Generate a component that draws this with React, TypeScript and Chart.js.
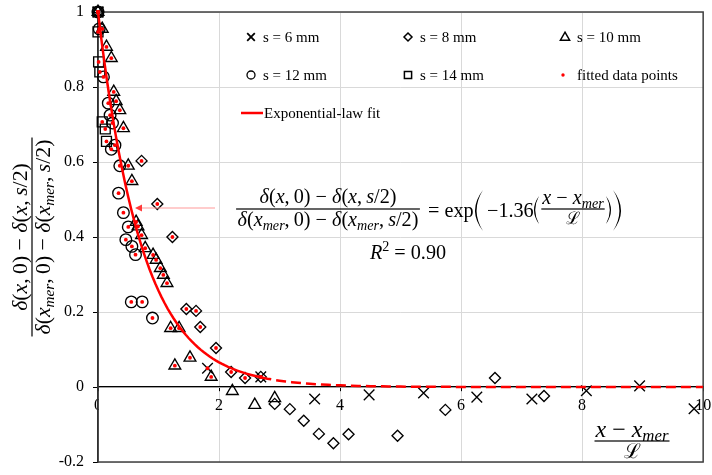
import React, { useEffect, useRef } from 'react';
import { Chart, registerables } from 'chart.js';

Chart.register(...registerables);

// ---------------- data ----------------
const S6_X = [0, 1.81, 2.69, 3.58, 4.48, 5.38, 6.26, 7.17, 8.07, 8.95, 9.85];
const S6_Y = [1, 0.05, 0.027, -0.032, -0.021, -0.016, -0.027, -0.032, -0.01, 0.003, -0.058];

const S8_X = [0, 0.72, 0.98, 1.23, 1.46, 1.62, 1.69, 1.95, 2.2, 2.43, 2.69, 2.92, 3.17, 3.4, 3.65, 3.89, 4.14, 4.95, 5.74, 6.56, 7.37];
const S8_Y = [1, 0.603, 0.488, 0.4, 0.208, 0.203, 0.16, 0.104, 0.04, 0.024, 0.027, -0.045, -0.059, -0.09, -0.125, -0.15, -0.126, -0.13, -0.061, 0.024, -0.024];

const S10_X = [0, 0.07, 0.14, 0.22, 0.26, 0.3, 0.36, 0.42, 0.5, 0.56, 0.63, 0.66, 0.72, 0.78, 0.91, 0.96, 1.03, 1.08, 1.14, 1.2, 1.34, 1.27, 1.52, 1.87, 2.22, 2.59, 2.92];
const S10_Y = [1, 0.955, 0.907, 0.877, 0.787, 0.762, 0.738, 0.69, 0.59, 0.549, 0.44, 0.428, 0.405, 0.37, 0.352, 0.339, 0.317, 0.299, 0.277, 0.157, 0.157, 0.057, 0.078, 0.027, -0.011, -0.048, -0.03];

const S12_X = [0, 0.02, 0.09, 0.17, 0.2, 0.24, 0.28, 0.22, 0.36, 0.34, 0.42, 0.5, 0.46, 0.56, 0.62, 0.55, 0.73, 0.9];
const S12_Y = [1, 0.955, 0.827, 0.757, 0.725, 0.704, 0.645, 0.634, 0.59, 0.517, 0.465, 0.427, 0.393, 0.375, 0.353, 0.227, 0.227, 0.184];

const S14_X = [0, 0, 0.01, 0.03, 0.07, 0.12, 0.14];
const S14_Y = [1, 0.947, 0.867, 0.84, 0.707, 0.688, 0.655];

const FIT_COEF = -1.36;
const FIT_RANGE_END = 2.7;
const X_MIN = 0, X_MAX = 10, X_STEP = 2;
const Y_MIN = -0.2, Y_MAX = 1, Y_STEP = 0.2;

const LEGEND_LABELS = ['s = 6 mm', 's = 8 mm', 's = 10 mm', 's = 12 mm', 's = 14 mm', 'fitted data points', 'Exponential-law fit'];
const R2_TEXT = ' = 0.90';
const COEF_TEXT = '\u22121.36';

// ---------------- helpers ----------------
const pts = (xs: number[], ys: number[]) => xs.map((x, i) => ({ x, y: ys[i] }));

const fittedPoints = (() => {
  const out: { x: number; y: number }[] = [];
  const all: [number[], number[]][] = [[S6_X, S6_Y], [S8_X, S8_Y], [S10_X, S10_Y], [S12_X, S12_Y], [S14_X, S14_Y]];
  for (const [xs, ys] of all) xs.forEach((x, i) => { if (ys[i] > 0 && x <= FIT_RANGE_END) out.push({ x, y: ys[i] }); });
  return out;
})();

const fitCurve = (a: number, b: number, step: number) => {
  const out: { x: number; y: number }[] = [];
  for (let x = a; x <= b + 1e-9; x += step) out.push({ x, y: Math.exp(FIT_COEF * x) });
  return out;
};

const MATH_FONT = '"Liberation Serif", "Times New Roman", serif';
type Seg = [string, number]; // 0 normal, 1 italic, 2 italic subscript, 3 superscript, 4 script letter

function segFont(style: number, size: number) {
  if (style === 4) return `${(size * 0.85).toFixed(2)}px "DejaVu Serif", ${MATH_FONT}`;
  const small = style === 2 || style === 3;
  const sz = small ? size * 0.7 : size;
  const it = style === 1 || style === 2 ? 'italic ' : '';
  return `${it}${sz.toFixed(2)}px ${MATH_FONT}`;
}
function segsWidth(ctx: CanvasRenderingContext2D, segs: Seg[], size: number) {
  let w = 0;
  for (const [t, s] of segs) { ctx.font = segFont(s, size); w += ctx.measureText(t).width; }
  return w;
}
function drawSegs(ctx: CanvasRenderingContext2D, segs: Seg[], x: number, y: number, size: number) {
  ctx.textBaseline = 'alphabetic';
  ctx.textAlign = 'left';
  let cx = x;
  for (const [t, s] of segs) {
    ctx.font = segFont(s, size);
    const dy = s === 2 ? size * 0.2 : s === 3 ? -size * 0.38 : 0;
    ctx.fillText(t, cx, y + dy);
    cx += ctx.measureText(t).width;
  }
  return cx;
}
function drawFraction(ctx: CanvasRenderingContext2D, num: Seg[], den: Seg[], cx: number, barY: number,
  numBase: number, denBase: number, size: number, barW: number) {
  const wn = segsWidth(ctx, num, size), wd = segsWidth(ctx, den, size);
  ctx.fillRect(cx - barW / 2, barY - 0.6, barW, 1.2);
  drawSegs(ctx, num, cx - wn / 2, numBase, size);
  drawSegs(ctx, den, cx - wd / 2, denBase, size);
}
function drawParen(ctx: CanvasRenderingContext2D, x0: number, x1: number, yT: number, yB: number, open: boolean, th: number) {
  const mid = (yT + yB) / 2;
  ctx.beginPath();
  if (open) {
    ctx.moveTo(x1, yT);
    ctx.quadraticCurveTo(2 * x0 - x1, mid, x1, yB);
    ctx.quadraticCurveTo(2 * (x0 + th) - x1, mid, x1, yT);
  } else {
    ctx.moveTo(x0, yT);
    ctx.quadraticCurveTo(2 * x1 - x0, mid, x0, yB);
    ctx.quadraticCurveTo(2 * (x1 - th) - x0, mid, x0, yT);
  }
  ctx.closePath();
  ctx.fill();
}
function drawMarker(ctx: CanvasRenderingContext2D, kind: string, x: number, y: number, s: number) {
  ctx.beginPath();
  if (kind === 'cross') {
    ctx.moveTo(x - s, y - s); ctx.lineTo(x + s, y + s);
    ctx.moveTo(x + s, y - s); ctx.lineTo(x - s, y + s);
  } else if (kind === 'diamond') {
    ctx.moveTo(x, y - s); ctx.lineTo(x + s, y); ctx.lineTo(x, y + s); ctx.lineTo(x - s, y); ctx.closePath();
  } else if (kind === 'triangle') {
    const h = s * 1.732;
    ctx.moveTo(x, y - h * 0.6); ctx.lineTo(x + s, y + h * 0.4); ctx.lineTo(x - s, y + h * 0.4); ctx.closePath();
  } else if (kind === 'circle') {
    ctx.arc(x, y, s, 0, Math.PI * 2);
  } else if (kind === 'square') {
    ctx.rect(x - s, y - s, 2 * s, 2 * s);
  }
  ctx.stroke();
}

const NUM: Seg[] = [['δ', 1], ['(', 0], ['x', 1], [',\u20090) \u2212 ', 0], ['δ', 1], ['(', 0], ['x', 1], [',\u2009', 0], ['s', 1], ['/2)', 0]];
const DEN: Seg[] = [['δ', 1], ['(', 0], ['x', 1], ['mer', 2], [',\u20090) \u2212 ', 0], ['δ', 1], ['(', 0], ['x', 1], ['mer', 2], [',\u2009', 0], ['s', 1], ['/2)', 0]];
const XNUM: Seg[] = [['x', 1], [' \u2212 ', 0], ['x', 1], ['mer', 2]];
const XDEN: Seg[] = [['\u2112', 4]];

const overlayPlugin = {
  id: 'overlay',
  beforeDatasetsDraw(chart: any) {
    const { ctx, chartArea: a } = chart;
    ctx.save();
    ctx.fillStyle = '#fff';
    ctx.fillRect(a.left + 1, a.bottom - 68, 6, 20);
    ctx.strokeStyle = '#404040';
    ctx.lineWidth = 1.5;
    ctx.strokeRect(a.left, a.top, a.right - a.left, a.bottom - a.top);
    ctx.restore();
  },
  afterDraw(chart: any) {
    const { ctx } = chart;
    ctx.save();
    // ---- legend ----
    ctx.strokeStyle = '#000';
    const cols = [251, 408, 565];
    const rows = [37, 75];
    const kinds = ['cross', 'diamond', 'triangle', 'circle', 'square'];
    const sizes = [3.8, 4, 4.6, 4, 3.6];
    const lws = [1.8, 1.5, 1.5, 1.3, 1.5];
    ctx.fillStyle = '#000';
    for (let i = 0; i < 6; i++) {
      const cx = cols[i % 3], cy = rows[Math.floor(i / 3)];
      if (i < 5) { ctx.lineWidth = lws[i]; drawMarker(ctx, kinds[i], cx, cy, sizes[i]); }
      else { ctx.fillStyle = '#ff0000'; ctx.beginPath(); ctx.arc(cx - 2, cy, 1.7, 0, Math.PI * 2); ctx.fill(); ctx.fillStyle = '#000'; }
      ctx.font = `15px ${MATH_FONT}`;
      ctx.textBaseline = 'middle';
      ctx.textAlign = 'left';
      ctx.fillText(LEGEND_LABELS[i], cx + 12, cy + 1);
    }
    ctx.strokeStyle = '#ff0000';
    ctx.lineWidth = 2.5;
    ctx.beginPath(); ctx.moveTo(241, 113); ctx.lineTo(263, 113); ctx.stroke();
    ctx.fillStyle = '#000';
    ctx.font = `15px ${MATH_FONT}`;
    ctx.textBaseline = 'middle';
    ctx.fillText(LEGEND_LABELS[6], 264, 114);

    // ---- arrow ----
    ctx.strokeStyle = '#ff9a9a';
    ctx.lineWidth = 1.2;
    ctx.beginPath(); ctx.moveTo(215, 208); ctx.lineTo(141, 208); ctx.stroke();
    ctx.fillStyle = '#ff3b3b';
    ctx.beginPath(); ctx.moveTo(135, 208); ctx.lineTo(142, 204.5); ctx.lineTo(142, 211.5); ctx.closePath(); ctx.fill();

    // ---- equation ----
    ctx.fillStyle = '#000';
    const ms = 18 * 137 / segsWidth(ctx, NUM, 18);
    const wd = segsWidth(ctx, DEN, ms);
    drawFraction(ctx, NUM, DEN, 328, 209, 203, 226, ms, wd + 3);
    drawSegs(ctx, [['= exp', 0]], 428, 216.5, ms);
    drawParen(ctx, 475, 483, 190, 231, true, 1.6);
    drawSegs(ctx, [[COEF_TEXT, 0]], 487, 216.5, ms);
    drawParen(ctx, 534, 539, 196, 224, true, 1.2);
    const wxn = segsWidth(ctx, XNUM, ms);
    drawFraction(ctx, XNUM, XDEN, 573, 209, 204, 224, ms, wxn + 2);
    drawParen(ctx, 606, 611, 196, 224, false, 1.2);
    drawParen(ctx, 613, 621, 190, 231, false, 1.6);
    const r2 = segsWidth(ctx, [['R', 1], ['2', 3], [R2_TEXT, 0]], ms);
    drawSegs(ctx, [['R', 1], ['2', 3], [R2_TEXT, 0]], 408 - r2 / 2, 258.5, ms);

    // ---- x axis title ----
    const xs = 18 * 73 / segsWidth(ctx, XNUM, 18);
    drawFraction(ctx, XNUM, XDEN, 632, 441, 436.5, 458, xs, 75);

    // ---- y axis title ----
    const ys = 18 * 195 / segsWidth(ctx, DEN, 18);
    ctx.translate(32, 237);
    ctx.rotate(-Math.PI / 2);
    const yw = segsWidth(ctx, DEN, ys);
    drawFraction(ctx, NUM, DEN, 0, 0, -12 + 0.3 * ys, 11 + 0.3 * ys, ys, yw + 4);
    ctx.restore();
  },
};

export default function App() {
  const ref = useRef<HTMLCanvasElement>(null);
  useEffect(() => {
    const canvas = ref.current!;
    const pointDs = (label: string, data: any[], style: string, r: number) => ({
      label, data, showLine: false, pointStyle: style, pointRadius: r, pointHoverRadius: r,
      pointBorderColor: '#000', pointBackgroundColor: 'rgba(0,0,0,0)', pointBorderWidth: 1.35, clip: false as any,
    });
    const chart = new Chart(canvas, {
      type: 'scatter',
      data: {
        datasets: [
          { label: LEGEND_LABELS[5], data: fittedPoints, showLine: false, pointStyle: 'circle', pointRadius: 1.9,
            pointBackgroundColor: '#ff0000', pointBorderWidth: 0, clip: false as any },
          { label: LEGEND_LABELS[6], data: fitCurve(0, FIT_RANGE_END, 0.05), showLine: true, borderColor: '#ff0000',
            borderWidth: 2.5, pointRadius: 0, tension: 0, clip: false as any },
          { label: LEGEND_LABELS[6] + ' (ext)', data: fitCurve(FIT_RANGE_END, X_MAX, 0.1), showLine: true, borderColor: '#ff0000',
            borderWidth: 2.5, borderDash: [10, 5], pointRadius: 0, tension: 0 },
          pointDs(LEGEND_LABELS[0], pts(S6_X, S6_Y), 'crossRot', 7.5),
          pointDs(LEGEND_LABELS[1], pts(S8_X, S8_Y), 'rectRot', 5.5),
          pointDs(LEGEND_LABELS[2], pts(S10_X, S10_Y), 'triangle', 6.8),
          pointDs(LEGEND_LABELS[3], pts(S12_X, S12_Y), 'circle', 5.8),
          pointDs(LEGEND_LABELS[4], pts(S14_X, S14_Y), 'rect', 7),
        ] as any,
      },
      options: {
        responsive: false,
        animation: false,
        events: [],
        layout: { padding: { left: 0, right: 5, top: 12, bottom: 13 } },
        plugins: { legend: { display: false }, tooltip: { enabled: false }, title: { display: false } },
        scales: {
          x: {
            type: 'linear', min: X_MIN, max: X_MAX,
            position: { y: 0 } as any,
            afterFit: (s: any) => { s.paddingLeft = 0; s.paddingRight = 0; },
            ticks: { stepSize: X_STEP, color: '#000', font: { family: 'Liberation Serif', size: 16 }, padding: 5,
              callback: (v: any) => String(v), maxRotation: 0 },
            grid: { color: '#d9d9d9', tickColor: '#000', tickLength: 4, lineWidth: 1 },
            border: { color: '#000', width: 1.2 },
          },
          y: {
            type: 'linear', min: Y_MIN, max: Y_MAX, position: 'left',
            afterFit: (s: any) => { s.width = 98; s.paddingTop = 0; s.paddingBottom = 0; },
            ticks: { stepSize: Y_STEP, color: '#000', font: { family: 'Liberation Serif', size: 16 }, padding: 9,
              callback: (v: any) => { const r = Math.round(Number(v) * 10) / 10; return r === 0 ? '0' : String(r); } },
            grid: { color: '#d9d9d9', tickColor: '#000', tickLength: 5, lineWidth: 1 },
            border: { color: '#000', width: 1.5 },
          },
        },
      } as any,
      plugins: [overlayPlugin],
    });
    return () => chart.destroy();
  }, []);
  return (
    <div style={{ position: 'fixed', left: 0, top: 0, width: 712, height: 475, background: '#fff' }}>
      <canvas ref={ref} width={712} height={475} style={{ display: 'block', width: 712, height: 475 }} />
    </div>
  );
}
